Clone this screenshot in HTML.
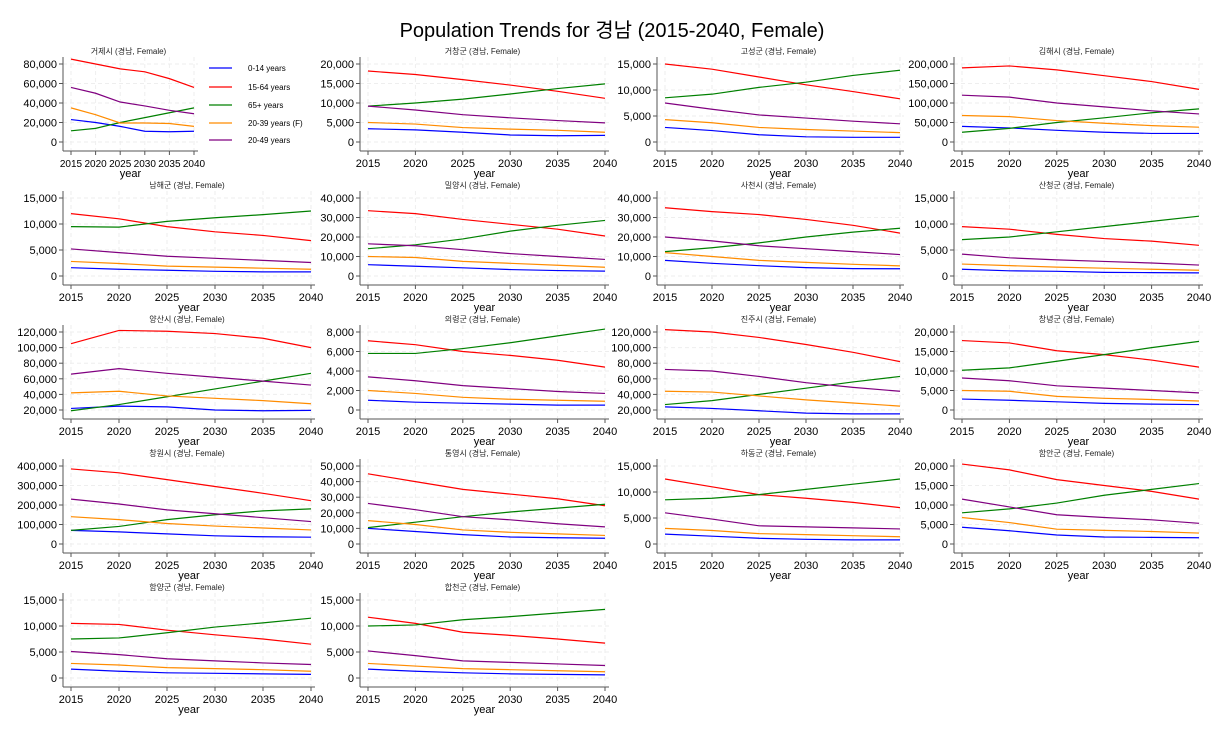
<!DOCTYPE html>
<html><head><meta charset="utf-8">
<style>
body{margin:0;background:#fff;width:1224px;height:734px;overflow:hidden}
text{font-family:"Liberation Sans","Noto Sans CJK KR",sans-serif}
</style></head>
<body>
<svg id="chart" width="1224" height="734">
<text x="612" y="37" text-anchor="middle" font-size="20">Population Trends for 경남 (2015-2040, Female)</text>
</svg>
<script>
const years=[2015,2020,2025,2030,2035,2040];
const seriesNames=["0-14 years","15-64 years","65+ years","20-39 years (F)","20-49 years"];
const seriesColors=["#0000ff","#ff0000","#008000","#ff8c00","#800080"];
const regions=["거제시","거창군","고성군","김해시","남해군","밀양시","사천시","산청군","양산시","의령군","진주시","창녕군","창원시","통영시","하동군","함안군","함양군","합천군"];
const yTickMin=[0,0,0,0,0,0,0,0,20000,0,20000,0,0,0,0,0,0,0];
const yTickMax=[80000,20000,15000,200000,15000,40000,40000,15000,120000,8000,120000,20000,400000,50000,15000,20000,15000,15000];
const yTickStep=[20000,5000,5000,50000,5000,10000,10000,5000,20000,2000,20000,5000,100000,10000,5000,5000,5000,5000];
const kids=[[23000,20000,16000,11000,10500,11000],[3400,3100,2500,1800,1600,1700],[2800,2200,1400,1000,900,900],[40000,36000,30000,25000,22000,22000],[1600,1300,1100,900,800,800],[5800,5000,4200,3300,2800,2500],[8000,6500,5300,4300,3800,3700],[1300,1000,900,700,650,600],[22000,25000,24000,20000,19000,19500],[1000,800,700,600,500,500],[24000,22000,19000,16000,15000,15000],[2800,2500,2100,1700,1500,1400],[70000,62000,52000,42000,37000,35000],[10000,8000,6000,4500,4000,3700],[1900,1500,1100,900,800,800],[4300,3400,2300,1800,1700,1600],[1700,1300,1000,900,800,700],[1700,1300,1000,800,700,600]];
const working=[[85000,80000,75000,72000,65000,56000],[18200,17300,16000,14600,13000,11200],[15000,14000,12500,11000,9700,8300],[190000,195000,185000,170000,155000,135000],[12000,11000,9500,8500,7800,6800],[33500,32000,29000,26500,24000,20500],[35000,33000,31500,29000,26000,22000],[9500,9000,8000,7200,6700,5900],[105000,122000,121000,118000,112000,100000],[7100,6700,6000,5600,5100,4400],[123000,120000,113000,104000,94000,82000],[17800,17200,15200,14200,12800,11000],[385000,365000,330000,295000,260000,222000],[45000,40000,35000,32000,29000,24500],[12500,11000,9500,8800,8000,7000],[20500,19000,16500,15000,13500,11500],[10500,10300,9200,8300,7500,6500],[11700,10500,8800,8200,7500,6700]];
const elderly=[[11500,14000,20000,25000,30000,35000],[9200,10000,11000,12300,13700,14900],[8500,9200,10500,11500,12800,13800],[25000,35000,50000,62000,75000,85000],[9500,9400,10500,11200,11800,12500],[14000,16000,19000,23000,26000,28500],[12500,14500,17000,20000,22500,24500],[7000,7500,8500,9500,10500,11500],[19000,27000,37000,47000,57000,67000],[5800,5800,6300,6900,7600,8300],[27000,32000,40000,48000,56000,63000],[10200,10800,12500,14200,16000,17600],[70000,90000,125000,150000,170000,180000],[10500,14000,17500,20500,23000,25500],[8500,8800,9500,10500,11500,12500],[8000,9000,10500,12500,14000,15500],[7500,7700,8700,9800,10600,11500],[10000,10200,11200,11800,12500,13200]];
const young=[[35000,28000,19500,19500,19000,16000],[5000,4600,3700,3300,3000,2500],[4300,3700,2800,2400,2100,1800],[68000,65000,55000,48000,42000,38000],[2800,2400,1900,1700,1500,1300],[10000,9500,7500,6500,5500,4500],[12000,10000,8000,7000,6000,5200],[2300,2000,1700,1500,1300,1100],[42000,44000,38000,35000,32000,28000],[2000,1700,1300,1100,1000,900],[44000,43000,38000,33000,29000,25000],[5000,4800,3500,3000,2700,2300],[140000,125000,105000,92000,82000,72000],[15000,12500,9000,7500,6500,5500],[3000,2600,2000,1800,1600,1400],[6800,5500,3800,3500,3200,2800],[2800,2500,2000,1800,1600,1300],[2800,2300,1800,1600,1400,1200]];
const prime=[[56000,50000,41000,37000,32500,29000],[9200,8200,7000,6200,5500,4900],[7500,6300,5200,4600,4000,3500],[120000,115000,100000,90000,80000,72000],[5200,4500,3800,3400,3000,2600],[16500,15500,13500,11500,10000,8500],[20000,18000,15500,14000,12500,11000],[4200,3500,3100,2800,2500,2100],[66000,73000,67000,62000,57000,52000],[3400,3000,2500,2200,1900,1700],[72000,70000,63000,55000,49000,44000],[8200,7500,6200,5600,5000,4400],[230000,205000,175000,155000,135000,115000],[26000,22000,17500,15500,13000,11000],[6000,4800,3500,3300,3100,2900],[11500,9500,7500,6800,6200,5300],[5100,4500,3700,3300,2900,2600],[5200,4300,3300,3000,2700,2400]];
const allSeries=[kids,working,elderly,young,prime];

const NS="http://www.w3.org/2000/svg";
const svg=document.getElementById('chart');
const colX0=[71,368,665,962], colX1=[311,605,900,1199], rowT=[51,185,319,453,587];
function mk(tag,attrs,parent){const e=document.createElementNS(NS,tag);for(const k in attrs)e.setAttribute(k,attrs[k]);(parent||svg).appendChild(e);return e;}
const fmt=v=>v.toLocaleString('en-US');

regions.forEach((name,i)=>{
  const c=i%4,r=Math.floor(i/4);
  const x0=colX0[c], x1=(i===0?194:colX1[c]), t=rowT[r];
  const g=mk('g',{});
  
  
  const xs=y=>x0+(y-2015)/25*(x1-x0);
  const yb=t+91, yt=t+13;
  const ys=v=>yb-(v-yTickMin[i])/(yTickMax[i]-yTickMin[i])*(yb-yt);
  const axL=x0-8, axR=x1+4;
  const ttl=mk('text',{x:(axL+x1)/2,y:t+3,'font-size':8,'text-anchor':'middle',fill:'#222'},g);
  ttl.textContent=name+' (경남, Female)';
  
  
  for(let v=yTickMin[i];v<=yTickMax[i]+1;v+=yTickStep[i]){
    const y=ys(v);
    mk('line',{x1:axL,x2:axR,y1:y,y2:y,stroke:'#eeeeee','stroke-width':1,'stroke-dasharray':'4,3'},g);
    mk('line',{x1:axL-4,x2:axL,y1:y,y2:y,stroke:'#555'},g);
    const tx=mk('text',{x:axL-6,y:y+4,'font-size':11,'text-anchor':'end'},g);
    tx.textContent=fmt(v);
    
    
  }
  years.forEach(yr=>{
    const x=xs(yr);
    mk('line',{x1:x,x2:x,y1:t+6,y2:t+99,stroke:'#eeeeee','stroke-dasharray':'4,3'},g);
    mk('line',{x1:x,x2:x,y1:t+100,y2:t+104,stroke:'#555'},g);
    const tx=mk('text',{x:x,y:t+116,'font-size':(i===0?10:11),'text-anchor':'middle'},g);
    tx.textContent=yr;
    
    
  });
  mk('line',{x1:axL,x2:axL,y1:t+6,y2:t+100,stroke:'#555'},g);
  mk('line',{x1:axL,x2:axR,y1:t+100,y2:t+100,stroke:'#555'},g);
  const xl=mk('text',{x:(axL+axR)/2,y:t+126,'font-size':11,'text-anchor':'middle'},g);
  xl.textContent='year';
  
  
  allSeries.forEach((s,k)=>{
    const pts=s[i].map((v,j)=>xs(years[j])+','+ys(v)).join(' ');
    const pl=mk('polyline',{points:pts,fill:'none',stroke:seriesColors[k],'stroke-width':1.2},g);
    
    
  });
});
const lg=mk('g',{});


const legY=[68,87,105,123,140];
seriesNames.forEach((n,k)=>{
  mk('line',{x1:209,x2:232,y1:legY[k],y2:legY[k],stroke:seriesColors[k],'stroke-width':1.2},lg);
  const tx=mk('text',{x:248,y:legY[k]+3,'font-size':8},lg);
  tx.textContent=n;
  
  
});
</script>
</body></html>
